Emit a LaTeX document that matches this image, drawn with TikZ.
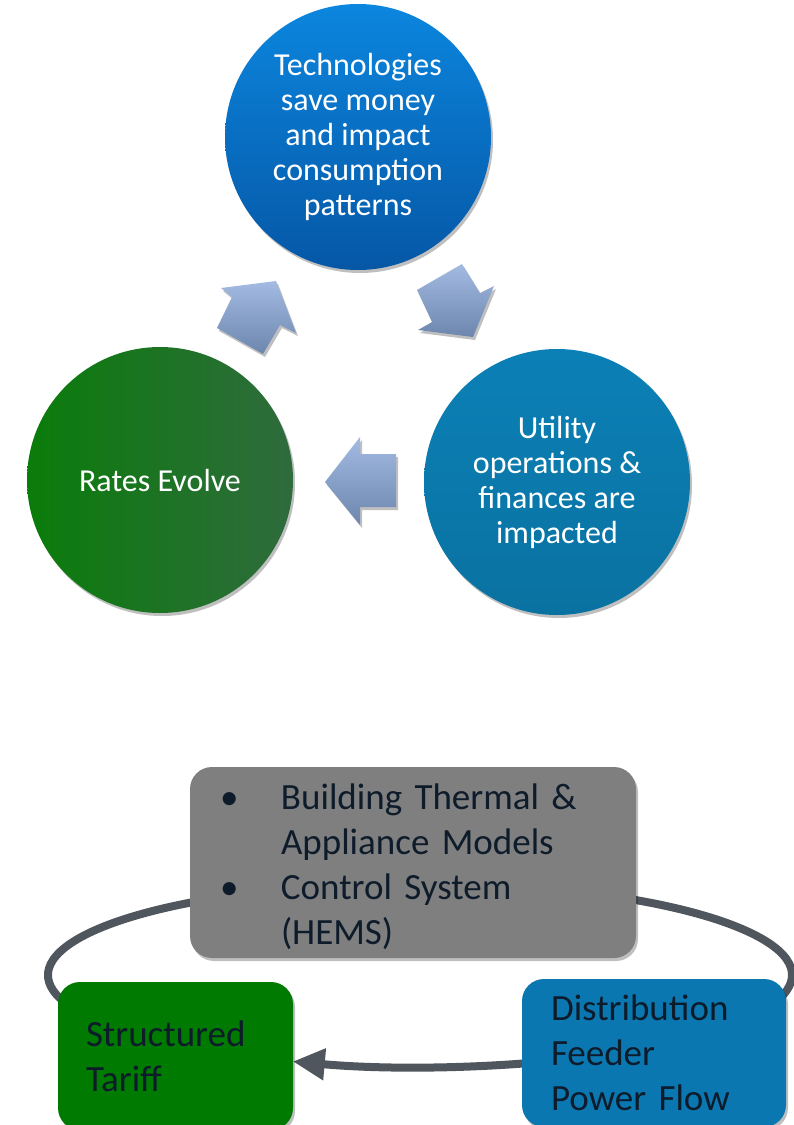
\documentclass[tikz,border=0pt]{standalone}
\usepackage{fontspec}
\setmainfont{Carlito}
\usetikzlibrary{shadows,arrows.meta}
\definecolor{techtop}{HTML}{0B86DE}
\definecolor{techbot}{HTML}{0657A6}
\definecolor{rateleft}{HTML}{0A7C0A}
\definecolor{rateright}{HTML}{2F6B3D}
\definecolor{utiltop}{HTML}{0B80B6}
\definecolor{utilbot}{HTML}{0A72A1}
\definecolor{arrtop}{HTML}{A3BBE3}
\definecolor{arrbot}{HTML}{6D86AE}
\definecolor{boxgray}{HTML}{7F7F7F}
\definecolor{boxgreen}{HTML}{007A00}
\definecolor{boxblue}{HTML}{0B77B0}
\definecolor{ringcol}{HTML}{50565E}
\definecolor{darktext}{HTML}{0D1B2A}
\begin{document}
\begin{tikzpicture}[x=1pt,y=1pt,
  shad/.style={drop shadow={shadow xshift=2pt,shadow yshift=-3pt,opacity=0.25,fill=black}},
  circ/.style={circle,inner sep=0pt,minimum size=266pt,text=white,align=center,
    font=\fontsize{32}{35}\selectfont,shad},
  blockarrow/.style={top color=arrtop,bottom color=arrbot,shad},
  rbox/.style={rectangle,rounded corners=22pt,inner sep=0pt,text=darktext,
    font=\fontsize{37}{45}\selectfont,shad},
  ring/.style={draw=ringcol,line width=8pt}
]
\useasboundingbox (0,0) rectangle (794,-1125);
\clip (0,0) rectangle (794,-1125);

% ---- top cycle ----
\node[circ,top color=techtop,bottom color=techbot] (tech) at (358,-137)
  {Technologies\\save money\\and impact\\consumption\\patterns};
\node[circ,left color=rateleft,right color=rateright] (rates) at (160,-480)
  {Rates Evolve};
\node[circ,top color=utiltop,bottom color=utilbot] (util) at (557,-482)
  {Utility\\operations \&\\finances are\\impacted};

% block arrows
\path[blockarrow] (276,-281) -- (221,-288) -- (232,-297) -- (217,-328)
  -- (263,-354) -- (280,-325) -- (296,-333) -- cycle;
\path[blockarrow] (473,-337) -- (494,-286) -- (480,-293) -- (462,-264)
  -- (417,-290) -- (432,-322) -- (418,-330) -- cycle;
\path[blockarrow] (325,-482) -- (360,-437) -- (360,-454) -- (396,-454)
  -- (396,-507) -- (360,-507) -- (360,-525) -- cycle;

% ---- bottom diagram ----
\coordinate (rc) at (420,-975);
\draw[ring] (rc) ++(-60:372 and 92) arc[start angle=-60,end angle=250,x radius=372pt,y radius=92pt];
\draw[ring,-{Triangle[length=32pt,width=30pt]}] (rc) ++(-60:372 and 92)
  arc[start angle=-60,end angle=-110,x radius=372pt,y radius=92pt];

\node[rbox,fill=boxgray,minimum width=446pt,minimum height=191pt,
  text width=386pt,inner xsep=30pt,align=left] (models) at (413,-862.5)
  {\raisebox{-5pt}[\height][\depth]{\begin{tabular}{@{}p{61pt}@{}l@{}}
   \textbullet & Building Thermal \&\\
               & Appliance Models\\
   \textbullet & Control System\\
               & (HEMS)
   \end{tabular}}};

\node[rbox,fill=boxgreen,minimum width=235pt,minimum height=148pt,
  text width=179pt,inner xsep=28pt,align=left] (tariff) at (175.5,-1056)
  {Structured\\Tariff};

\node[rbox,fill=boxblue,minimum width=264pt,minimum height=148pt,
  text width=206pt,inner xsep=29pt,align=left] (feeder) at (654,-1053)
  {Distribution\\Feeder\\Power Flow};
\end{tikzpicture}
\end{document}
